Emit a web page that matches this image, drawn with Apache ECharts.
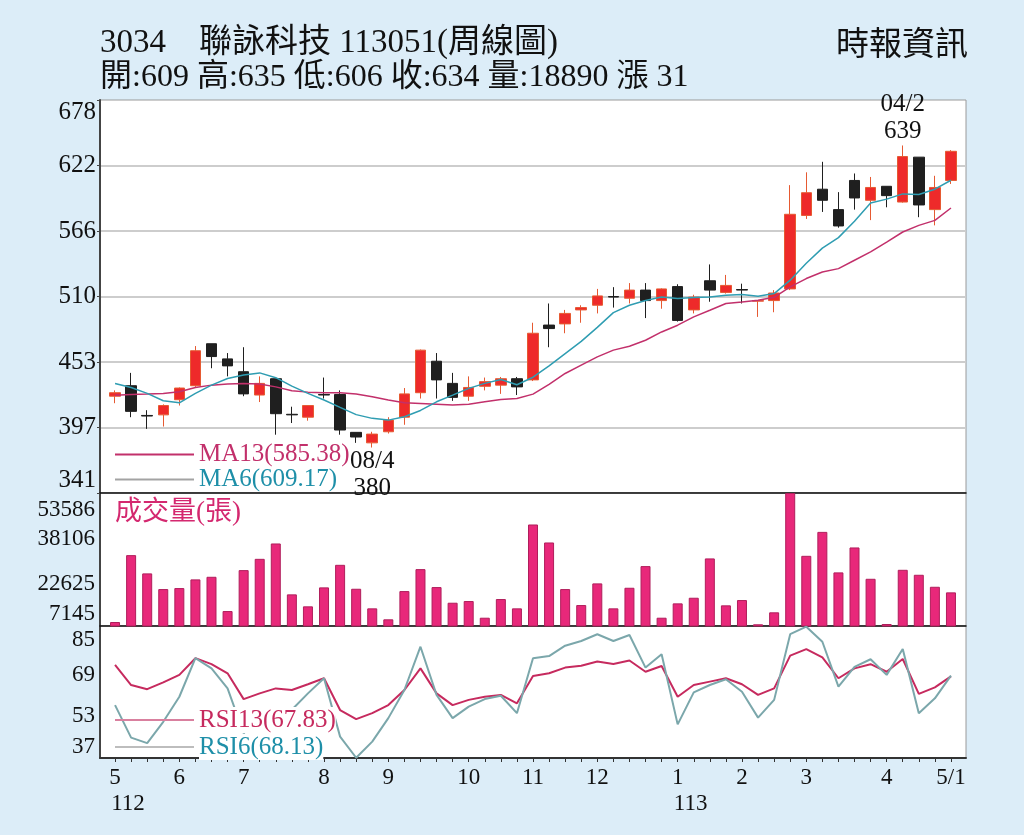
<!DOCTYPE html>
<html>
<head>
<meta charset="utf-8">
<title>聯詠科技 周線圖</title>
<script src="https://cdn.jsdelivr.net/npm/echarts@6/dist/echarts.min.js"></script>
<style>
  html, body { margin: 0; padding: 0; background: #dcedf8; }
  #chart { width: 1024px; height: 835px; }
</style>
</head>
<body>
<div id="chart"></div>
<script>
// weekly data, 112/05 .. 113/05 (ROC years)
const weeks = [
  '112/05/1', '112/05/2', '112/05/3', '112/05/4',
  '112/06/1', '112/06/2', '112/06/3', '112/06/4',
  '112/07/1', '112/07/2', '112/07/3', '112/07/4', '112/07/5',
  '112/08/1', '112/08/2', '112/08/3', '112/08/4',
  '112/09/1', '112/09/2', '112/09/3', '112/09/4', '112/09/5',
  '112/10/1', '112/10/2', '112/10/3', '112/10/4',
  '112/11/1', '112/11/2', '112/11/3', '112/11/4',
  '112/12/1', '112/12/2', '112/12/3', '112/12/4', '112/12/5',
  '113/01/1', '113/01/2', '113/01/3', '113/01/4',
  '113/02/1', '113/02/2', '113/02/3', '113/02/4',
  '113/03/1', '113/03/2', '113/03/3', '113/03/4', '113/03/5',
  '113/04/1', '113/04/2', '113/04/3', '113/04/4',
  '113/05/1'
]
const monthLabels = [
  '5\n112', '', '', '',
  '6', '', '', '',
  '7', '', '', '', '',
  '8', '', '', '',
  '9', '', '', '', '',
  '10', '', '', '',
  '11', '', '', '',
  '12', '', '', '', '',
  '1\n113', '', '', '',
  '2', '', '', '',
  '3', '', '', '', '',
  '4', '', '', '',
  '5/1'
]

const opens = [424, 433, 407.5, 408, 421, 433, 469, 456, 445, 425, 439, 408.5, 406, 425.5, 425.5, 393, 384, 393.5, 406, 427,
  454, 435, 424, 432.5, 433.5, 439, 438, 485, 486, 498, 502, 509.5, 508, 515, 506, 518, 498, 523, 513, 515.5,
  505.5, 506, 516, 579, 601.5, 584, 609, 592, 604, 590.5, 629, 584, 609]
const closes = [427, 411, 407, 416, 431, 463, 458, 450, 426, 435, 409, 408, 416, 425, 395, 389, 391.5, 403.5, 426, 463.5,
  438, 423, 431.5, 436.5, 439, 432, 478, 482, 495, 500, 510, 509, 515, 506, 516, 489, 509, 515, 519, 515,
  506, 512.5, 580, 598.5, 592, 570, 594, 603, 596, 629.5, 588, 603, 634]
const lows = [418, 406, 396, 398, 416, 432, 448, 441, 424, 419, 391, 401, 403, 422, 391, 384, 380, 392, 399.5, 422,
  422, 420, 420, 429, 426, 425, 437, 466, 478, 487, 495, 500, 503.5, 491, 499, 488, 495, 505, 512, 503.5,
  492, 496, 515, 576, 582, 568.5, 584, 575, 586, 590, 577.5, 570.5, 606]
const highs = [429, 444, 412, 417, 431.5, 467, 469, 461, 466, 441, 439, 415, 416, 440, 429, 393, 393.5, 406, 431, 464,
  461, 444, 441, 440, 440.5, 440.5, 487, 503.5, 498, 502, 516, 517.5, 521, 521, 516.5, 520, 511, 537, 528, 520.5,
  506, 515, 605, 616, 625, 599, 615, 612, 604, 639, 629, 613, 635]
const volumes = [8540, 31890, 25510, 20040, 20390, 23420, 24330, 12370, 26660, 30600, 35960, 18190, 14010, 20630, 28510, 20150, 13310, 9480, 19340, 27010,
  20740, 15270, 15860, 10040, 16560, 13310, 42590, 36310, 20040, 14460, 22020, 13310, 20500, 28060, 10040, 15050, 17010, 30740, 14360, 16210,
  7740, 11920, 53586, 31650, 40010, 25860, 34570, 23630, 7840, 26770, 25030, 20840, 18890]
const ma13 = [424.9, 425.5, 425.8, 426.4, 427.8, 431.5, 433.5, 434.4, 434.9, 434.4, 432, 428.6, 427.5, 426.9, 426.9, 425.8, 423.5, 420.7, 418.3, 417.8,
  417.2, 416.4, 417.2, 419.2, 421.2, 422.1, 425.8, 434.2, 443.5, 450.6, 457.7, 463.5, 466.9, 472, 479.1, 484.9, 492, 497.7, 503.5, 504.8,
  506.3, 508.8, 517.7, 524.9, 530.5, 533.4, 540.6, 547.7, 556.2, 564.8, 570.5, 574.8, 585.38]
const ma6 = [434.9, 431.5, 426.4, 420.1, 418.3, 426.4, 433.5, 439.2, 442.1, 444.0, 439.9, 432.6, 426.4, 420.7, 414.4, 408.2, 405, 403.5, 406.4, 411.8,
  419.2, 424.9, 430.7, 435, 438.4, 433.8, 440.3, 450, 460.5, 471, 483, 495.7, 502, 506, 509, 507.8, 508.6, 509.1, 510.6, 511.2,
  509.7, 512, 523.5, 538, 551, 560, 574, 589.6, 593, 597.5, 597, 601.5, 609.17]
const rsi13 = [72.2, 64.5, 62.9, 65.5, 68.4, 74.8, 72.5, 69.0, 59.1, 61.3, 63.2, 62.6, 64.8, 67.1, 54.9, 51.4, 53.7, 56.8, 62.6, 70.9,
  61.3, 56.8, 58.8, 60.0, 60.7, 57.5, 68.0, 69.0, 71.2, 71.9, 73.5, 72.6, 73.9, 69.6, 71.8, 60.0, 64.5, 65.8, 67.1, 64.8,
  60.7, 63.2, 75.8, 78.3, 75.1, 67.1, 70.9, 72.5, 69.6, 74.5, 61.1, 63.6, 67.83]
const rsi6 = [56.8, 44.3, 42.2, 50.4, 60.0, 74.8, 70.9, 63.2, 46.0, 53.0, 49.0, 55.0, 61.3, 67.1, 44.7, 36.6, 42.8, 51.8, 62.6, 79.2,
  60.7, 51.8, 56.2, 59.1, 60.4, 53.7, 74.8, 75.6, 79.6, 81.4, 84.0, 81.4, 83.7, 71.2, 76.3, 49.4, 61.7, 64.5, 66.7, 61.9,
  52.0, 58.8, 84.0, 86.9, 81.1, 63.9, 71.5, 74.4, 68.4, 78.3, 53.7, 59.4, 68.13]

// axis tick labels
const priceTicks = [341, 397, 453, 510, 566, 622, 678]
const volumeTicks = [7145, 22625, 38106, 53586]
const rsiTicks = [37, 53, 69, 85]
const rsiMin = 36.5, rsiMax = 87.15

const SERIF = '"Liberation Serif", "Noto Sans CJK TC", serif'
const last = closes.length - 1
const header = '開:' + opens[last] + ' 高:' + highs[last] + ' 低:' + lows[last] + ' 收:' + closes[last] +
  ' 量:' + volumes[last] + ' 漲 ' + (closes[last] - closes[last - 1])
const hiIdx = highs.indexOf(Math.max(...highs))
const loIdx = lows.indexOf(Math.min(...lows))
const rsiStep = rsiTicks[1] - rsiTicks[0]

const C_MA13 = '#c2306b', C_MA6 = '#2f9db2'
const C_RSI13 = '#c62a5e', C_RSI6 = '#7ba7ab'

const chart = echarts.init(document.getElementById('chart'))

const plainAxis = (gridIndex, extra) => Object.assign({
  type: 'value', gridIndex, min: 0, max: 1,
  axisLabel: { show: false }, axisTick: { show: false }, splitLine: { show: false }
}, extra)

const helperLabel = (size, margin, fmt, rich) => ({
  margin, color: '#111', fontFamily: SERIF, fontSize: size, formatter: fmt, rich
})

const titleStyle = { fontFamily: SERIF, fontSize: 33, fontWeight: 'normal', color: '#111' }

const options = {
  backgroundColor: '#dcedf8',
  animation: false,
  title: [
    { text: '3034　聯詠科技 113051(周線圖)', left: 100, top: 27, padding: 0, textStyle: titleStyle },
    { text: header, left: 100, top: 62, padding: 0, textStyle: Object.assign({}, titleStyle, { fontSize: 32 }) },
    { text: '時報資訊', right: 56, top: 30, padding: 0, textStyle: titleStyle },
    { text: '成交量(張)', left: 115, top: 499, padding: 0,
      textStyle: { fontFamily: SERIF, fontSize: 27, fontWeight: 'normal', color: '#d4286f' } }
  ],
  legend: [
    {
      left: 115, top: 442, orient: 'vertical', itemGap: 0, padding: 0,
      itemWidth: 79, itemHeight: 2, icon: 'rect', selectedMode: false,
      textStyle: { fontFamily: SERIF, fontSize: 25, lineHeight: 25, backgroundColor: '#fff' },
      formatter: n => n + '(' + (n === 'MA13' ? ma13[last] : ma6[last]).toFixed(2) + ')',
      data: [
        { name: 'MA13', itemStyle: { color: C_MA13 }, textStyle: { color: C_MA13 } },
        { name: 'MA6', itemStyle: { color: '#a3a3a3' }, textStyle: { color: '#1e8fa8' } }
      ]
    },
    {
      left: 115, top: 707, orient: 'vertical', itemGap: 1, padding: 0,
      itemWidth: 79, itemHeight: 2, icon: 'rect', selectedMode: false,
      textStyle: { fontFamily: SERIF, fontSize: 25, lineHeight: 26, backgroundColor: '#fff' },
      formatter: n => n + '(' + (n === 'RSI13' ? rsi13[last] : rsi6[last]).toFixed(2) + ')',
      data: [
        { name: 'RSI13', itemStyle: { color: '#d9809f' }, textStyle: { color: C_RSI13 } },
        { name: 'RSI6', itemStyle: { color: '#bdbdbd' }, textStyle: { color: '#1e8fa8' } }
      ]
    }
  ],
  grid: [
    // data grids
    { left: 107, width: 852, top: 100, height: 393, containLabel: false },
    { left: 107, width: 852, top: 493, height: 133, containLabel: false },
    { left: 107, width: 852, top: 626, height: 132, containLabel: false },
    // panel frames with the y labels
    { left: 100, width: 866, top: 100, height: 393, containLabel: false, show: true, backgroundColor: '#fff', borderColor: '#9a9a9a', borderWidth: 1 },
    { left: 100, width: 866, top: 493, height: 133, containLabel: false, show: true, backgroundColor: '#fff', borderColor: '#9a9a9a', borderWidth: 1 },
    { left: 100, width: 866, top: 626, height: 132, containLabel: false, show: true, backgroundColor: '#fff', borderColor: '#9a9a9a', borderWidth: 1 }
  ],
  xAxis: [
    { type: 'category', gridIndex: 0, data: weeks, boundaryGap: true, show: false },
    { type: 'category', gridIndex: 1, data: weeks, boundaryGap: true, show: false },
    {
      type: 'category', gridIndex: 2, data: weeks, boundaryGap: true,
      axisLine: { show: false },
      axisTick: { show: true, alignWithLabel: true, interval: 0, length: 4, lineStyle: { color: '#333' } },
      splitLine: { show: false },
      axisLabel: {
        interval: i => monthLabels[i] !== '',
        formatter: (v, i) => {
          const p = monthLabels[i].split('\n')
          return p.length > 1 ? '{m|' + p[0] + '}\n{y|' + p[1] + '}' : '{m|' + p[0] + '}'
        },
        margin: 7, color: '#111', fontFamily: SERIF, fontSize: 23, lineHeight: 26, hideOverlap: false,
        rich: { m: {}, y: { padding: [0, 0, 0, 26] } }
      }
    },
    plainAxis(3, { show: false }),
    plainAxis(4, { position: 'top', axisLine: { show: true, onZero: false, lineStyle: { color: '#111', width: 1.5 } } }),
    plainAxis(5, { position: 'top', axisLine: { show: true, onZero: false, lineStyle: { color: '#111', width: 1.5 } } }),
    plainAxis(5, { position: 'bottom', axisLine: { show: true, onZero: false, lineStyle: { color: '#333', width: 2 } } })
  ],
  yAxis: [
    { type: 'value', gridIndex: 0, min: priceTicks[0], max: priceTicks[priceTicks.length - 1], show: false },
    { type: 'value', gridIndex: 1, min: volumeTicks[0], max: volumeTicks[volumeTicks.length - 1], show: false },
    { type: 'value', gridIndex: 2, min: rsiMin, max: rsiMax, show: false },
    {
      type: 'value', gridIndex: 3, min: 0, max: priceTicks.length - 1, interval: 1,
      axisLine: { show: true, onZero: false, lineStyle: { color: '#444', width: 2 } },
      axisTick: { show: true, length: 3, lineStyle: { color: '#444' } },
      splitLine: { show: true, showMinLine: false, showMaxLine: false, lineStyle: { color: '#cdcdcd', width: 2 } },
      axisLabel: helperLabel(25, 4, v => {
        const t = priceTicks[v]
        if (v === priceTicks.length - 1) return '{top|' + t + '}'
        if (v === 0) return '{bot|' + t + '}'
        return String(t)
      }, { top: { padding: [24, 0, 0, 0] }, bot: { padding: [0, 0, 26, 0] } })
    },
    {
      type: 'value', gridIndex: 4, min: 0, max: volumeTicks.length - 1, interval: 1,
      axisLine: { show: true, onZero: false, lineStyle: { color: '#444', width: 2 } },
      axisTick: { show: false },
      splitLine: { show: false },
      axisLabel: helperLabel(23, 5, v => {
        const t = volumeTicks[v]
        if (v === volumeTicks.length - 1) return '{top|' + t + '}'
        if (v === 0) return '{bot|' + t + '}'
        return '{mid|' + t + '}'
      }, { top: { padding: [34, 0, 0, 0] }, bot: { padding: [0, 0, 24, 0] }, mid: { padding: [4, 0, 0, 0] } })
    },
    {
      // helper scale counted in RSI tick steps from the bottom of the panel
      type: 'value', gridIndex: 5,
      min: 0, max: (rsiMax - rsiMin) / rsiStep, interval: 1,
      axisLine: { show: true, onZero: false, lineStyle: { color: '#444', width: 2 } },
      axisTick: { show: false },
      splitLine: { show: false },
      axisLabel: helperLabel(23, 5, v => {
        const k = Math.round(v)
        if (Math.abs(v - k) > 1e-6 || k < 0 || k >= rsiTicks.length) return ''
        const t = rsiTicks[k]
        if (k === rsiTicks.length - 1) return '{top|' + t + '}'
        if (k === 0) return '{bot|' + t + '}'
        return String(t)
      }, { top: { padding: [14, 0, 0, 0] }, bot: { padding: [0, 0, 22, 0] } })
    }
  ],
  series: [
    {
      type: 'candlestick', name: 'K', xAxisIndex: 0, yAxisIndex: 0,
      data: weeks.map((w, i) => [opens[i], closes[i], lows[i], highs[i]]),
      barWidth: 11,
      itemStyle: { color: '#ee2a2a', color0: '#1f1f1f', borderColor: '#e65a32', borderColor0: '#1f1f1f', borderWidth: 1 },
      markPoint: {
        symbol: 'rect', symbolSize: 1, silent: true,
        itemStyle: { color: 'rgba(0,0,0,0)' },
        label: { show: true, color: '#111', fontFamily: SERIF, fontSize: 25, lineHeight: 27 },
        data: [
          { coord: [weeks[hiIdx], highs[hiIdx]],
            label: { position: 'top', distance: 0, formatter: weeks[hiIdx].slice(4) + '\n' + highs[hiIdx] } },
          { coord: [weeks[loIdx], lows[loIdx]],
            label: { position: 'bottom', distance: 0, formatter: weeks[loIdx].slice(4) + '\n' + lows[loIdx] } }
        ]
      }
    },
    {
      type: 'line', name: 'MA13', xAxisIndex: 0, yAxisIndex: 0, data: ma13, symbol: 'none', silent: true,
      lineStyle: { color: C_MA13, width: 1.5 }, itemStyle: { color: C_MA13 }
    },
    {
      type: 'line', name: 'MA6', xAxisIndex: 0, yAxisIndex: 0, data: ma6, symbol: 'none', silent: true,
      lineStyle: { color: C_MA6, width: 1.5 }, itemStyle: { color: C_MA6 }
    },
    {
      type: 'bar', name: '成交量', xAxisIndex: 1, yAxisIndex: 1, data: volumes, barWidth: 10,
      itemStyle: { color: '#e8287a', borderColor: '#b01e5b', borderWidth: 1 }
    },
    {
      type: 'line', name: 'RSI13', xAxisIndex: 2, yAxisIndex: 2, data: rsi13, symbol: 'none', silent: true,
      lineStyle: { color: C_RSI13, width: 2 }, itemStyle: { color: C_RSI13 }
    },
    {
      type: 'line', name: 'RSI6', xAxisIndex: 2, yAxisIndex: 2, data: rsi6, symbol: 'none', silent: true,
      lineStyle: { color: C_RSI6, width: 2 }, itemStyle: { color: C_RSI6 }
    }
  ]
}

chart.setOption(options)
</script>
</body>
</html>
